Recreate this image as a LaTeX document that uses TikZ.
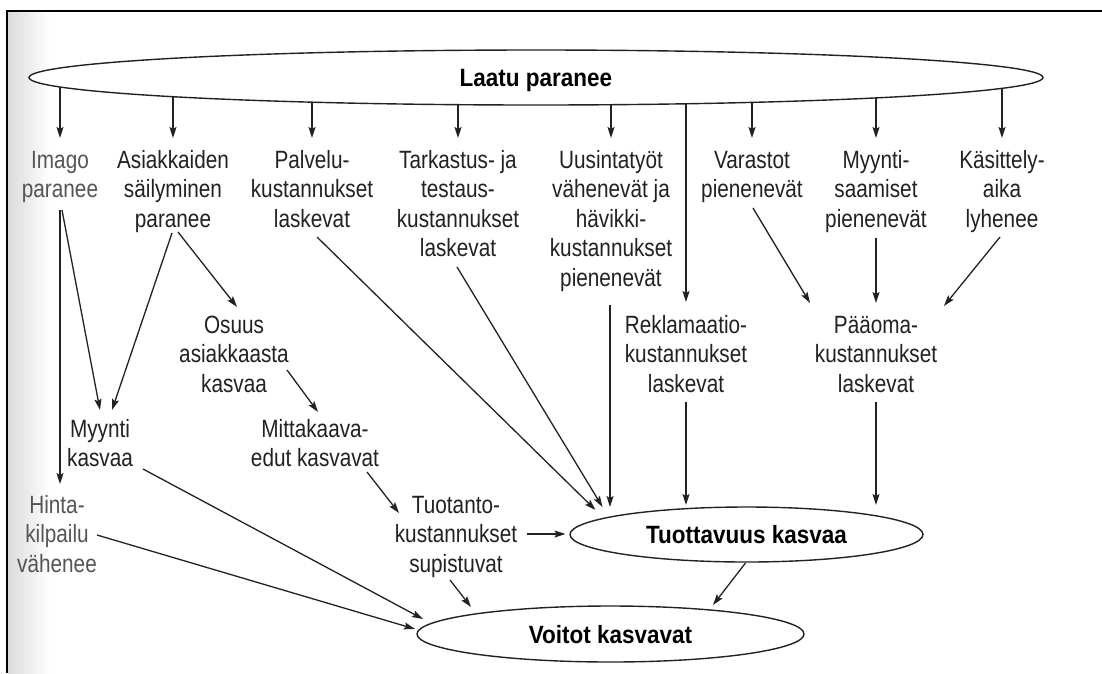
\documentclass[tikz,border=0pt]{standalone}
\usepackage{fontspec}
\newfontfamily\diagfont[FakeStretch=0.83]{Liberation Sans}
\newfontfamily\diagbfont[FakeStretch=0.9]{Liberation Sans}
\usetikzlibrary{shapes.geometric,arrows.meta,calc}
\pgfdeclarelayer{back}
\pgfdeclarelayer{bg}
\pgfsetlayers{back,bg,main}
\definecolor{ink}{HTML}{222222}
\definecolor{faded}{HTML}{555555}
\tikzset{
  txt/.style={anchor=north, align=center, inner sep=0pt, text=ink,
    font=\diagfont\fontsize{25pt}{29.5pt}\selectfont},
  fadedtxt/.style={txt, text=faded},
  ell/.style={ellipse, draw=ink, line width=1.4pt, fill=white, inner sep=0pt,
    text=black, text height=18pt, text depth=0pt,
    font=\diagbfont\bfseries\fontsize{25pt}{29.5pt}\selectfont},
  arr/.style={draw=ink, line width=1.3pt, -{Stealth[length=11pt,width=7pt,inset=2pt]}},
  ln/.style={draw=ink, line width=1.3pt}
}
\begin{document}
\begin{tikzpicture}[x=1pt,y=-1pt]
\useasboundingbox (0,0) rectangle (1102,673);
\begin{pgfonlayer}{back}
\fill[white] (0,0) rectangle (1102,673);
\shade[left color=black!14, right color=white] (8,12) rectangle (50,673);
\end{pgfonlayer}

% ellipses
\node[ell, minimum width=1014pt, minimum height=55pt] (laatu) at (536,77.5) {Laatu paranee};
\node[ell, minimum width=353pt, minimum height=55pt] (tuott) at (746.5,534.5) {Tuottavuus kasvaa};
\node[ell, minimum width=387pt, minimum height=56pt] (voitot) at (610.5,634) {Voitot kasvavat};

% top row
\node[fadedtxt] (imago) at (60,147.4) {\strut Imago\\paranee};
\node[txt] (asiak) at (173,147.4) {\strut Asiakkaiden\\säilyminen\\paranee};
\node[txt] (palvelu) at (312,147.4) {\strut Palvelu-\\kustannukset\\laskevat};
\node[txt] (tark) at (458,147.4) {\strut Tarkastus- ja\\testaus-\\kustannukset\\laskevat};
\node[txt] (uusi) at (611,147.4) {\strut Uusintatyöt\\vähenevät ja\\hävikki-\\kustannukset\\pienenevät};
\node[txt] (varastot) at (752,147.4) {\strut Varastot\\pienenevät};
\node[txt] (myyntis) at (876,147.4) {\strut Myynti-\\saamiset\\pienenevät};
\node[txt] (kasittely) at (1002,147.4) {\strut Käsittely-\\aika\\lyhenee};

% middle
\node[txt] (osuus) at (234,312.4) {\strut Osuus\\asiakkaasta\\kasvaa};
\node[txt] (reklam) at (686,312.4) {\strut Reklamaatio-\\kustannukset\\laskevat};
\node[txt] (paaoma) at (876,312.4) {\strut Pääoma-\\kustannukset\\laskevat};
\node[txt] (myynti) at (100,416.4) {\strut Myynti\\kasvaa};
\node[txt] (mitta) at (315,416.4) {\strut Mittakaava-\\edut kasvavat};
\node[fadedtxt] (hinta) at (57,492.4) {\strut Hinta-\\kilpailu\\vähenee};
\node[txt] (tuotanto) at (456,492.4) {\strut Tuotanto-\\kustannukset\\supistuvat};

\begin{pgfonlayer}{bg}
% from Laatu paranee
\foreach \n in {imago,asiak,palvelu,tark,uusi,varastot,myyntis,kasittely}
  \draw[arr] (laatu.center -| \n.north) -- ([yshift=9.4pt]\n.north);
\draw[arr] (laatu.center -| reklam.north) -- ([yshift=10.4pt]reklam.north);

% left part
\draw[arr] ($(imago.north)+(0,62.6)$) -- ($(hinta.north)+(3,-8.4)$);
\draw[arr] ($(imago.north)+(2,62.6)$) -- ($(myynti.north)+(0,-6.4)$);
\draw[arr] ($(asiak.north)+(-1,85.6)$) -- ($(myynti.north)+(12,-6.4)$);
\draw[arr] ($(asiak.north)+(5,84.6)$) -- ($(osuus.north)+(3,-5.4)$);
\draw[arr] ($(osuus.north)+(53,57.6)$) -- ($(mitta.north)+(3,-4.4)$);
\draw[arr] ($(mitta.north)+(52,55.6)$) -- ($(tuotanto.north)+(-57,20.6)$);
\draw[arr] ($(tuotanto.north)+(71,41.6)$) -- ($(tuott.center)+(-181,-0.5)$);
\draw[arr] ($(tuotanto.north)+(-6,87.6)$) -- ($(voitot.center)+(-139.5,-27)$);
\draw[arr] ($(myynti.north)+(43,52.6)$) -- ($(voitot.center)+(-187.5,-15)$);
\draw[arr] ($(hinta.north)+(40,42.6)$) -- ($(voitot.center)+(-195.5,-5)$);

% into Tuottavuus
\draw[arr] ($(palvelu.north)+(5,89.6)$) -- ($(tuott.center)+(-151,-24.5)$);
\draw[arr] ($(tark.north)+(-1,119.6)$) -- ($(tuott.center)+(-144,-27.5)$);
\draw[arr] ($(uusi.north)+(-1,157.6)$) -- ($(tuott.center)+(-136.5,-27.5)$);
\draw[arr] ($(reklam.north)+(0,89.6)$) -- ($(tuott.center)+(-60.5,-29.5)$);
\draw[arr] ($(paaoma.north)+(0,89.6)$) -- ($(tuott.center)+(129.5,-29.5)$);
\draw[arr] ($(tuott.center)+(-1,28.5)$) -- ($(voitot.center)+(102.5,-29)$);

% into Paaoma
\draw[arr] ($(varastot.north)+(1,60.6)$) -- ($(paaoma.north)+(-66,-9.4)$);
\draw[arr] ($(myyntis.north)+(0,90.6)$) -- ($(paaoma.north)+(0,-9.4)$);
\draw[arr] ($(kasittely.north)+(-2,89.6)$) -- ($(paaoma.north)+(68,-6.4)$);
\end{pgfonlayer}

% frame
\draw[line width=2pt, black] (7,673) -- (7,11) -- (1102,11);
\end{tikzpicture}
\end{document}
